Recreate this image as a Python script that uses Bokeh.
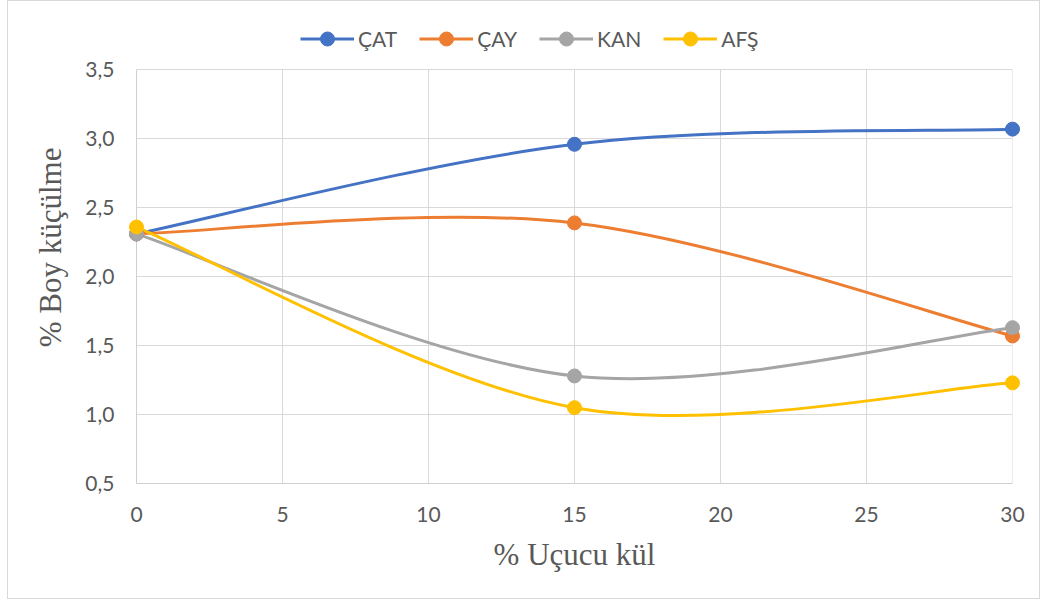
from bokeh.plotting import figure
from bokeh.models import (Range1d, Legend, LegendItem, CustomJSTickFormatter,
                          FixedTicker, ColumnDataSource)
from bokeh.embed import file_html
from bokeh.resources import INLINE

# ---- data ----
x_vals = [0, 15, 30]
series_names = ["ÇAT", "ÇAY", "KAN", "AFŞ"]
cat_vals = [2.31, 2.96, 3.07]
cay_vals = [2.31, 2.39, 1.57]
kan_vals = [2.31, 1.28, 1.63]
afs_vals = [2.36, 1.05, 1.23]
x_ticks = [0, 5, 10, 15, 20, 25, 30]
y_ticks = [0.5, 1.0, 1.5, 2.0, 2.5, 3.0, 3.5]
colors = ["#4472C4", "#ED7D31", "#A5A5A5", "#FFC000"]

TICK_FONT = "Lato"
TITLE_FONT = "Liberation Serif"
TXT = "#595959"
GRID = "#D9D9D9"

# plot area spans 0.5..3.5; the frame is extended upward to host the legend
PX_PER_UNIT = 413.4 / 3.0
TOP_PAD = 10
y_top = y_ticks[-1] + (68.3 - TOP_PAD) / PX_PER_UNIT

p = figure(width=1033, height=599, output_backend="svg", toolbar_location=None,
           x_range=Range1d(0, 30), y_range=Range1d(y_ticks[0], y_top),
           min_border_left=128, min_border_right=29, min_border_top=TOP_PAD,
           min_border_bottom=117)
p.styles = {"border": "1px solid #D9D9D9", "box-sizing": "border-box",
            "margin-left": "7px"}
p.outline_line_color = None
p.background_fill_color = "white"
p.border_fill_color = "white"

p.xaxis.ticker = FixedTicker(ticks=x_ticks)
p.yaxis.ticker = FixedTicker(ticks=y_ticks)
p.yaxis.bounds = (y_ticks[0], y_ticks[-1])
p.yaxis.formatter = CustomJSTickFormatter(code="return tick.toFixed(1).replace('.', ',');")
for ax in (p.xaxis, p.yaxis):
    ax.major_tick_line_color = None
    ax.minor_tick_line_color = None
    ax.major_tick_out = 0
    ax.major_tick_in = 0
    ax.axis_line_color = "#CFCFCF"
    ax.major_label_text_font = TICK_FONT
    ax.major_label_text_font_size = "21px"
    ax.major_label_text_color = TXT
    ax.axis_label_text_font = TITLE_FONT
    ax.axis_label_text_font_size = "31px"
    ax.axis_label_text_font_style = "normal"
    ax.axis_label_text_color = TXT
p.yaxis.major_label_standoff = 22
p.xaxis.major_label_standoff = 23
p.yaxis.axis_label_standoff = 14
p.xaxis.axis_label_standoff = 12
p.xaxis.axis_label = "% Uçucu kül"
p.yaxis.axis_label = "% Boy küçülme"
p.xgrid.visible = False
p.ygrid.grid_line_color = GRID

# vertical gridlines limited to the plot area
n = len(x_ticks)
p.segment(x0=x_ticks, y0=[y_ticks[0]] * n, x1=x_ticks, y1=[y_ticks[-1]] * n,
          line_color=GRID, line_width=1, level="underlay")


def smooth_segments(xs, ys):
    # Bezier control points (Catmull-Rom style smoothing, as in spreadsheet charts)
    n = len(xs)
    d = dict(x0=[], y0=[], x1=[], y1=[], cx0=[], cy0=[], cx1=[], cy1=[])
    for i in range(n - 1):
        im1 = max(i - 1, 0)
        ip2 = min(i + 2, n - 1)
        d["x0"].append(xs[i]); d["y0"].append(ys[i])
        d["x1"].append(xs[i + 1]); d["y1"].append(ys[i + 1])
        d["cx0"].append(xs[i] + (xs[i + 1] - xs[im1]) / 6)
        d["cy0"].append(ys[i] + (ys[i + 1] - ys[im1]) / 6)
        d["cx1"].append(xs[i + 1] - (xs[ip2] - xs[i]) / 6)
        d["cy1"].append(ys[i + 1] - (ys[ip2] - ys[i]) / 6)
    return ColumnDataSource(d)


items = []
for name, vals, col in zip(series_names, [cat_vals, cay_vals, kan_vals, afs_vals], colors):
    bz = p.bezier(x0="x0", y0="y0", x1="x1", y1="y1", cx0="cx0", cy0="cy0",
                  cx1="cx1", cy1="cy1", source=smooth_segments(x_vals, vals),
                  line_color=col, line_width=3)
    sc = p.scatter(x_vals, vals, size=14, marker="circle", fill_color=col,
                   line_color=col, level="overlay")
    items.append(LegendItem(label=name, renderers=[bz, sc]))

legend = Legend(items=items, orientation="horizontal", location=(164, 427),
                glyph_width=54, glyph_height=35, label_standoff=4, spacing=22,
                padding=0, margin=0, border_line_color=None,
                background_fill_alpha=0,
                label_text_font=TICK_FONT, label_text_font_size="21px",
                label_text_color=TXT)
p.add_layout(legend, "center")

open("out.html", "w").write(file_html(p, INLINE))
